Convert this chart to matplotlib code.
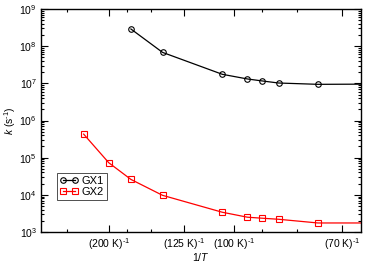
import numpy as np
import matplotlib
matplotlib.use("Agg")
from matplotlib import pyplot as plt
from matplotlib.ticker import FixedLocator, NullFormatter, LogFormatterSciNotation

plt.rcParams['font.family'] = ['Liberation Sans', 'DejaVu Sans']
plt.rcParams['mathtext.fontset'] = 'custom'
plt.rcParams['mathtext.rm'] = 'Liberation Sans'
plt.rcParams['mathtext.it'] = 'Liberation Sans:italic'

# temperatures (K) and rate constants (s^-1)
T_gx1 = [170, 140, 105, 95, 90, 85, 75, 60]
k_gx1 = [2.9e8, 6.8e7, 1.75e7, 1.31e7, 1.16e7, 1.02e7, 9.4e6, 9.6e6]
T_gx2 = [250, 200, 170, 140, 105, 95, 90, 85, 75, 60]
k_gx2 = [4.3e5, 7.3e4, 2.6e4, 9.7e3, 3.4e3, 2.5e3, 2.35e3, 2.2e3, 1.75e3, 1.75e3]

major_T = [200, 125, 100, 70]
minor_T = [300, 175, 150, 90, 80]
decades = [3, 4, 5, 6, 7, 8, 9]

fig = plt.figure(figsize=(3.66, 2.65), dpi=100)
ax = fig.add_axes([41/366, 1 - 232/265, 320/366, 223/265])

x1 = 1.0 / np.array(T_gx1)
x2 = 1.0 / np.array(T_gx2)
ax.plot(x1, k_gx1, '-', color='black', lw=0.9, marker='o', ms=4,
        mfc='none', mew=0.8, label='GX1')
ax.plot(x2, k_gx2, '-', color='red', lw=0.9, marker='s', ms=3.8,
        mfc='none', mew=0.8, label='GX2')

ax.set_yscale('log')
ax.set_ylim(1e3, 1e9)
ax.set_xlim(0.0023, 0.01505)

ax.xaxis.set_major_locator(FixedLocator([1.0 / t for t in major_T]))
ax.set_xticklabels([r'(%d K)$^{\text{-1}}$' % t for t in major_T])
ax.xaxis.set_minor_locator(FixedLocator([1.0 / t for t in minor_T]))
ax.yaxis.set_major_locator(FixedLocator([10.0 ** d for d in decades]))
ax.yaxis.set_major_formatter(LogFormatterSciNotation())
ax.yaxis.set_minor_locator(FixedLocator([m * 10.0 ** d for d in decades[:-1]
                                         for m in range(2, 10)]))
ax.yaxis.set_minor_formatter(NullFormatter())

ax.tick_params(which='both', direction='in', top=True, right=True,
               labelsize=7.5, width=0.8)
ax.tick_params(which='major', length=5, pad=3)
ax.tick_params(which='minor', length=2.5, labelbottom=False, labelleft=False)
for s in ax.spines.values():
    s.set_linewidth(1.0)

ax.set_xlabel(r'1/$\mathit{T}$', fontsize=7.5)
ax.xaxis.set_label_coords(0.5, -0.083)
ax.set_ylabel(r'$\mathit{k}$ (s$^{\text{-1}}$)', fontsize=7.5, labelpad=1)

leg = ax.legend(loc='upper left', bbox_to_anchor=(0.05, 0.265), numpoints=2,
                fontsize=8, frameon=True, fancybox=False, handlelength=1.7,
                handletextpad=0.3, borderpad=0.25, labelspacing=0.1,
                borderaxespad=0)
leg.get_frame().set_edgecolor('black')
leg.get_frame().set_linewidth(0.6)

fig.savefig('out.png', dpi=100)
